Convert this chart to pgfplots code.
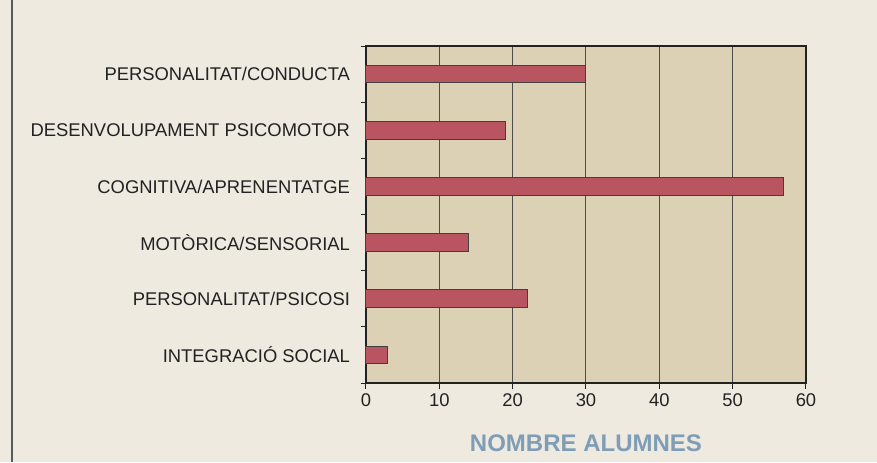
\documentclass[border=0pt]{standalone}
\usepackage{fontspec}
\setmainfont{Liberation Sans}
\usepackage{pgfplots}
\pgfplotsset{compat=1.18}
\definecolor{pagebg}{HTML}{EEEAE0}
\definecolor{plotbg}{HTML}{DCD0B5}
\definecolor{barred}{HTML}{B85560}
\definecolor{labelblue}{HTML}{7F9DB6}
\definecolor{inkdark}{HTML}{222222}

\begin{document}
\begin{tikzpicture}
% 1px = 0.5pt; axis box lower-left sits at pixel (366,383) of the 877x462 reference
\useasboundingbox (-183pt,-39.5pt) rectangle (255.5pt,191.5pt);
\fill[pagebg] (-183pt,-39.5pt) rectangle (255.5pt,191.5pt);
\draw[gray!70!black,line width=0.8pt] (-177pt,-39.5pt) -- (-177pt,191.5pt);
\begin{axis}[
  at={(0,0)},anchor=south west,
  scale only axis,width=220pt,height=168.5pt,
  xmin=0,xmax=60,ymin=-0.5,ymax=5.5,
  axis background/.style={fill=plotbg},
  axis line style={inkdark,line width=0.6pt},
  xtick={0,10,...,60},
  ytick={0,1,2,3,4,5},
  yticklabels={INTEGRACIÓ SOCIAL,PERSONALITAT/PSICOSI,MOTÒRICA/SENSORIAL,COGNITIVA/APRENENTATGE,DESENVOLUPAMENT PSICOMOTOR,PERSONALITAT/CONDUCTA},
  minor ytick={-0.5,0.5,1.5,2.5,3.5,4.5,5.5},
  xtick pos=bottom,ytick pos=left,
  tick align=outside,
  major tick length=3pt,minor tick length=2.5pt,
  y tick style={draw=none},
  minor y tick style={draw=inkdark,line width=0.5pt},
  x tick style={inkdark,line width=0.5pt},
  xmajorgrids,
  grid style={draw=black!70,line width=0.5pt},
  tick label style={font=\fontsize{9.2}{10}\selectfont,text=inkdark},
  /pgf/number format/assume math mode=true,
  yticklabel style={xshift=-1.5pt},
  xticklabel style={yshift=1pt},
  xlabel={NOMBRE ALUMNES},
  xlabel style={font=\fontsize{12}{14}\selectfont\bfseries,text=labelblue,yshift=-7pt},
  clip=false,
]
\addplot[xbar,bar width=8.8pt,fill=barred,draw=black!75,line width=0.5pt] coordinates {
  (3,0) (22,1) (14,2) (57,3) (19,4) (30,5)
};
\end{axis}
\end{tikzpicture}
\end{document}
